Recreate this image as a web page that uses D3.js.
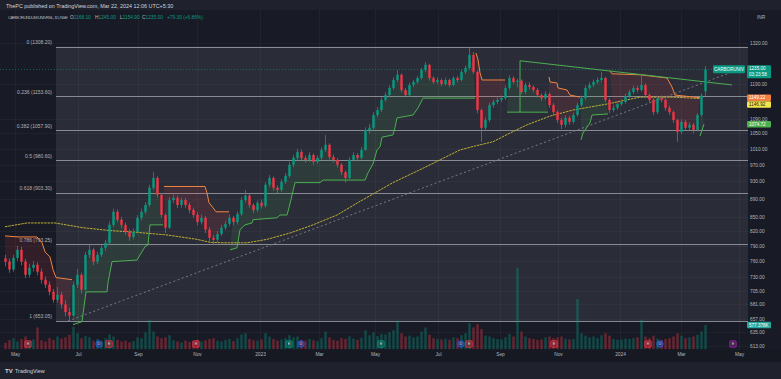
<!DOCTYPE html>
<html>
<head>
<meta charset="utf-8">
<title>CARBORUNIV 1D</title>
<script src="https://cdn.jsdelivr.net/npm/d3@7"></script>
<style>
  html, body { margin: 0; padding: 0; background: #1f222c; }
  svg { display: block; font-family: "Liberation Sans", Arial, sans-serif; }
</style>
</head>
<body>
<svg id="chart" width="781" height="379"></svg>
<script>
// ---- values (one bar every ~4 sessions) ----
const closes = [
  759,744,766,782,759,734,747,753,740,725,
  716,703,689,698,681,668,662,716,734,707,
  772,782,759,772,786,796,833,861,844,833,
  818,808,818,848,861,876,915,938,899,854,
  827,887,892,876,887,876,865,854,839,848,
  823,806,802,814,827,835,848,839,856,887,
  897,876,865,881,874,922,938,915,910,929,
  943,970,987,1002,987,982,994,977,987,1007,
  1020,989,982,970,952,938,982,994,987,1007,
  1059,1065,1100,1114,1143,1157,1178,1202,1218,1172,
  1157,1187,1196,1208,1233,1249,1208,1196,1202,1190,
  1202,1187,1208,1202,1227,1239,1281,1227,1114,1065,
  1086,1128,1137,1143,1148,1178,1208,1196,1200,1166,
  1187,1181,1172,1157,1148,1160,1128,1108,1086,1073,
  1092,1081,1100,1128,1148,1178,1187,1196,1202,1208,
  1143,1114,1120,1131,1137,1154,1166,1178,1172,1187,
  1157,1143,1108,1148,1143,1120,1108,1086,1054,1081,
  1065,1073,1059,1100,1155.7,1235
];
const highs = [
  772,765,772,790,788,764,755,760,758,746,
  731,722,708,712,703,688,676,722,745,738,
  778,792,786,778,792,802,840,868,866,850,
  838,824,825,854,868,882,922,952,942,903,
  858,894,900,897,893,892,881,870,860,855,
  852,828,812,820,833,842,855,852,862,894,
  910,902,880,886,888,928,945,942,921,935,
  950,977,994,1010,1008,993,1001,998,993,1014,
  1046,1024,995,986,974,956,988,1001,999,1014,
  1066,1075,1108,1122,1150,1165,1186,1210,1233,1222,
  1178,1194,1203,1215,1240,1258,1252,1214,1210,1207,
  1209,1206,1214,1215,1234,1247,1305,1290,1230,1118,
  1093,1135,1144,1150,1156,1186,1216,1214,1206,1204,
  1194,1195,1186,1178,1162,1168,1165,1133,1113,1092,
  1099,1097,1107,1135,1155,1186,1195,1203,1210,1227,
  1212,1148,1128,1138,1144,1161,1173,1185,1184,1218,
  1192,1162,1148,1155,1156,1148,1126,1112,1090,1088,
  1087,1080,1078,1106,1162,1245
];
const lows = [
  750,738,740,760,752,728,729,740,733,718,
  710,697,684,684,674,661,653,660,710,700,
  705,766,752,754,768,780,792,828,838,826,
  812,800,803,815,842,856,872,910,893,848,
  816,824,880,869,870,870,858,848,832,834,
  816,799,792,797,810,822,830,832,834,852,
  882,870,858,860,868,870,916,908,902,905,
  924,939,964,982,980,975,977,970,972,982,
  1002,983,975,963,945,927,935,978,980,983,
  1004,1050,1060,1094,1108,1137,1150,1172,1196,1165,
  1150,1152,1180,1190,1203,1226,1200,1190,1190,1183,
  1185,1180,1183,1195,1198,1220,1234,1220,1105,1028,
  1058,1080,1120,1130,1136,1142,1172,1190,1180,1160,
  1160,1174,1165,1150,1140,1142,1120,1100,1078,1062,
  1066,1074,1076,1095,1122,1142,1172,1180,1190,1195,
  1136,1106,1108,1114,1126,1132,1148,1160,1165,1167,
  1150,1136,1100,1103,1136,1112,1100,1078,1028,1048,
  1056,1058,1050,1055,1096,1154.9
];
const volumesK = [
  150,210,260,180,240,300,190,230,520,210,
  180,260,220,300,250,280,340,530,380,260,
  310,280,200,240,190,260,350,300,220,180,
  200,160,190,280,260,400,700,420,300,260,
  280,330,210,180,160,200,170,190,220,180,
  210,240,260,200,180,220,240,190,260,350,
  380,240,210,200,230,380,300,240,200,230,
  260,330,280,300,220,200,240,210,190,260,
  420,280,220,200,260,240,300,250,220,270,
  450,330,400,310,360,350,400,450,680,380,
  300,320,280,300,420,520,340,260,240,230,
  250,220,280,260,330,380,620,520,600,480,
  320,300,260,240,230,280,360,300,1950,420,
  300,260,240,220,230,280,300,260,280,300,
  250,230,240,1200,380,320,280,300,260,330,
  380,320,240,220,230,250,240,260,280,700,
  300,260,320,250,220,240,260,300,380,320,
  260,280,300,340,420,577.378
];
const firstOpen = 765;
const lastOpen = 1168.10;

// time axis (bar index positions of month labels)
const timeTickIdx = [2.5, 18.25, 33.25, 48, 63.75, 78.5, 92.5, 108.25, 123.75, 138.25, 153.75, 169, 183.5];
const timeTickLabels = ['May', 'Jul', 'Sep', 'Nov', '2023', 'Mar', 'May', 'Jul', 'Sep', 'Nov', '2024', 'Mar', 'May'];
const priceTicks = [1320, 1190, 1090, 1050, 1010, 970, 930, 890, 850, 820, 790, 760, 730, 705, 681, 657, 635, 613];

// fib retracement
const fibLevels = [0, 0.236, 0.382, 0.5, 0.618, 0.786, 1];
const fibPrices = [1308.20, 1153.60, 1057.90, 980.60, 903.30, 793.25, 653.05];
const fibStartIdx = 12.75;

// 200 day moving average, [bar index, price]
const ma200 = [
  [0, 829], [5.5, 837], [12.5, 837], [19.5, 827], [26.25, 821], [32, 818], [40.5, 812],
  [48, 803], [51.25, 797], [54.5, 796], [60.5, 796], [65.5, 803], [71.25, 816], [77, 833],
  [83, 854], [88.75, 884], [97, 927], [105.5, 966], [113.75, 1007], [117.5, 1017], [122, 1028],
  [126.25, 1051], [130.5, 1073], [136.25, 1097], [142, 1114], [150.5, 1131], [158.75, 1151],
  [167, 1151], [173.75, 1147]
];

// supertrend, [bar index, price]
const superUp = [
  [[17, 647], [19.25, 652], [20.25, 703], [25.5, 703], [25.75, 720], [26.75, 759], [33, 762],
   [33.75, 772], [35, 788], [35.75, 792], [36.25, 833], [39.5, 833]],
  [[56.25, 782], [58, 786], [58.75, 823], [60, 833], [61.75, 837], [62, 844], [68, 848],
   [68.75, 854], [70.5, 854], [71, 870], [72.5, 927], [78.75, 927], [79.5, 933], [90, 933],
   [90.75, 950], [92, 972], [93, 1007], [93.75, 1015], [94.25, 1040], [97, 1046], [97.5, 1066],
   [98, 1092], [102, 1100], [103.25, 1120], [104.5, 1148], [117.5, 1148]],
  [[125.5, 1108], [135.75, 1108]],
  [[144, 1033], [144.5, 1051], [146.25, 1078], [146.75, 1100], [150.75, 1103]],
  [[173.75, 1043], [174.75, 1074.72]]
];
const superDown = [
  [[0, 810], [3.25, 808], [8, 808], [9.25, 796], [10, 778], [11.25, 768], [12, 744],
   [12.75, 729], [16.75, 725]],
  [[39.75, 918], [50, 918], [50.5, 903], [51, 881], [52, 870], [52.75, 861], [56, 861]],
  [[117.75, 1287], [118.25, 1265], [118.75, 1224], [119.25, 1202], [125, 1202]],
  [[136, 1211], [136.25, 1196], [138, 1193], [138.25, 1178], [140.5, 1172], [141.25, 1157],
   [143.75, 1151]],
  [[151.25, 1230], [151.75, 1221], [158.75, 1218], [165.5, 1208], [166.75, 1181],
   [167.5, 1157], [173.75, 1149.22]]
];

// drawn trend lines
const trendDashed = [[15.75, 653], [182.5, 1230]];
const trendGreen = [[128.75, 1108], [128.75, 1262], [181.75, 1187]];

// earnings / dividends markers: [bar index, letter, kind]
const events = [
  [5.75, 'E', 'red'], [23.5, 'D', 'blue'], [26, 'E', 'red'], [47.75, 'E', 'red'],
  [71, 'E', 'green'], [74, 'D', 'blue'], [94, 'E', 'green'], [114, 'D', 'blue'],
  [116, 'E', 'red'], [137.25, 'E', 'red'], [160.75, 'E', 'red'], [163.75, 'D', 'blue'],
  [182, 'E', 'purple']
];

// ---- layout ----
const paneR = 748, paneT = 10, paneB = 350;
const upColor = '#089981', downColor = '#f23645';
const textGrey = '#b2b5be';

const svg = d3.select('#chart');

const x = d3.scaleLinear().domain([0, closes.length - 1]).range([5, 705]);
const y = d3.scaleLog().domain([613, 1320]).range([346, 43]);
const yVol = d3.scaleLinear().domain([0, 577378]).range([349, 325]);

const bars = closes.map((c, i) => ({
  i: i,
  c: c,
  o: i === closes.length - 1 ? lastOpen : (i === 0 ? firstOpen : closes[i - 1]),
  h: highs[i],
  l: lows[i],
  v: volumesK[i] * 1000
}));

const line = d3.line().x(p => x(p[0])).y(p => y(p[1]));

// backgrounds
svg.append('rect').attr('width', 781).attr('height', 379).attr('fill', '#1f222c');
svg.append('rect').attr('x', 0).attr('y', paneT).attr('width', 781).attr('height', paneB - paneT)
  .attr('fill', '#181b25');

svg.append('clipPath').attr('id', 'pane')
  .append('rect').attr('x', 0).attr('y', paneT).attr('width', paneR).attr('height', paneB - paneT);

const g = svg.append('g').attr('clip-path', 'url(#pane)');

// fib background
const fibX0 = x(fibStartIdx);
g.append('rect')
  .attr('x', fibX0).attr('width', paneR - fibX0)
  .attr('y', y(fibPrices[0])).attr('height', y(fibPrices[fibPrices.length - 1]) - y(fibPrices[0]))
  .attr('fill', '#2a2d38');

// grid
g.selectAll('line.vgrid').data(timeTickIdx).join('line')
  .attr('class', 'vgrid')
  .attr('x1', d => Math.round(x(d)) + 0.5).attr('x2', d => Math.round(x(d)) + 0.5)
  .attr('y1', paneT).attr('y2', paneB)
  .attr('stroke', '#ffffff').attr('stroke-opacity', 0.035);
g.selectAll('line.hgrid').data(priceTicks).join('line')
  .attr('class', 'hgrid')
  .attr('x1', 0).attr('x2', paneR)
  .attr('y1', d => Math.round(y(d)) + 0.5).attr('y2', d => Math.round(y(d)) + 0.5)
  .attr('stroke', '#ffffff').attr('stroke-opacity', 0.03);

// last price line
const lastY = Math.round(y(closes[closes.length - 1])) + 0.5;
g.append('line')
  .attr('x1', 0).attr('x2', paneR).attr('y1', lastY).attr('y2', lastY)
  .attr('stroke', upColor).attr('stroke-opacity', 0.55).attr('stroke-dasharray', '1,2');

// fib levels
g.selectAll('line.fib').data(fibPrices).join('line')
  .attr('class', 'fib')
  .attr('x1', fibX0).attr('x2', paneR)
  .attr('y1', d => Math.round(y(d)) + 0.5).attr('y2', d => Math.round(y(d)) + 0.5)
  .attr('stroke', '#a0a3ab').attr('stroke-opacity', 0.8);
g.selectAll('text.fib').data(fibPrices).join('text')
  .attr('class', 'fib')
  .attr('x', fibX0 - 4).attr('y', d => y(d) - 2.5)
  .attr('text-anchor', 'end')
  .attr('font-size', 5).attr('fill', textGrey)
  .text((d, i) => `${fibLevels[i]} (${d.toFixed(2)})`);

// volume
const bw = 2.4;
g.selectAll('rect.vol').data(bars).join('rect')
  .attr('class', 'vol')
  .attr('x', d => x(d.i) - bw / 2 + 0.5).attr('width', bw)
  .attr('y', d => yVol(d.v)).attr('height', d => yVol(0) - yVol(d.v))
  .attr('fill', d => d.c >= d.o ? upColor : downColor)
  .attr('fill-opacity', 0.38);

// supertrend fills between the line and the body middle
function bandPoints(seg) {
  const a = seg[0][0], b = seg[seg.length - 1][0];
  const mids = bars
    .filter(d => d.i >= Math.ceil(a) && d.i <= Math.floor(b))
    .map(d => [d.i, (d.o + d.c) / 2])
    .reverse();
  return seg.concat(mids);
}
g.selectAll('path.upfill').data(superUp).join('path')
  .attr('d', s => line(bandPoints(s)) + 'Z')
  .attr('fill', 'rgba(76,175,80,0.12)');
g.selectAll('path.downfill').data(superDown).join('path')
  .attr('d', s => line(bandPoints(s)) + 'Z')
  .attr('fill', 'rgba(242,54,69,0.12)');

// moving average
g.append('path').attr('d', line(ma200))
  .attr('fill', 'none').attr('stroke', '#bcae34').attr('stroke-width', 1)
  .attr('stroke-dasharray', '2.5,0.8');

// supertrend lines
g.selectAll('path.up').data(superUp).join('path')
  .attr('d', line).attr('fill', 'none').attr('stroke', '#4caf50').attr('stroke-width', 1);
g.selectAll('path.down').data(superDown).join('path')
  .attr('d', line).attr('fill', 'none').attr('stroke', '#f2843f').attr('stroke-width', 1);

// trend lines
g.append('path').attr('d', line(trendDashed))
  .attr('fill', 'none').attr('stroke', '#787b86').attr('stroke-dasharray', '2,2.5');
g.append('path').attr('d', line(trendGreen))
  .attr('fill', 'none').attr('stroke', '#4caf50').attr('stroke-width', 1);

// candles
g.selectAll('line.wick').data(bars).join('line')
  .attr('class', 'wick')
  .attr('x1', d => Math.round(x(d.i)) + 0.5).attr('x2', d => Math.round(x(d.i)) + 0.5)
  .attr('y1', d => y(d.h)).attr('y2', d => y(d.l))
  .attr('stroke', d => d.c >= d.o ? upColor : downColor).attr('stroke-width', 0.8);
g.selectAll('rect.body').data(bars).join('rect')
  .attr('class', 'body')
  .attr('x', d => x(d.i) - bw / 2 + 0.5).attr('width', bw)
  .attr('y', d => y(Math.max(d.o, d.c)))
  .attr('height', d => Math.max(0.8, y(Math.min(d.o, d.c)) - y(Math.max(d.o, d.c))))
  .attr('fill', d => d.c >= d.o ? upColor : downColor);

// event markers
const evColor = { red: '#f23645', blue: '#2962ff', green: '#089981', purple: '#9c27b0' };
const ev = g.selectAll('g.ev').data(events).join('g')
  .attr('transform', d => `translate(${x(d[0])},344)`);
ev.filter(d => d[1] === 'D').append('circle')
  .attr('r', 3.2).attr('fill', d => evColor[d[2]]).attr('fill-opacity', 0.3)
  .attr('stroke', d => evColor[d[2]]).attr('stroke-width', 0.8);
ev.filter(d => d[1] === 'E').append('rect')
  .attr('x', -3.2).attr('y', -3.2).attr('width', 6.4).attr('height', 6.4).attr('rx', 0.8)
  .attr('fill', d => evColor[d[2]]).attr('fill-opacity', 0.35)
  .attr('stroke', d => evColor[d[2]]).attr('stroke-width', 0.8);
ev.append('text')
  .attr('text-anchor', 'middle').attr('dy', '0.35em')
  .attr('font-size', 4).attr('fill', '#d1d4dc')
  .text(d => d[1]);

// symbol tag near last bar
const tagY = y(closes[closes.length - 1]);
svg.append('rect').attr('x', 713).attr('y', tagY - 4).attr('width', 32).attr('height', 8)
  .attr('rx', 1).attr('fill', upColor);
svg.append('text').attr('x', 729).attr('y', tagY).attr('dy', '0.35em')
  .attr('text-anchor', 'middle').attr('font-size', 4.5).attr('fill', '#ffffff')
  .text('CARBORUNIV');

// price axis
const axisG = svg.append('g').attr('transform', `translate(${paneR},0)`)
  .call(d3.axisRight(y).tickValues(priceTicks).tickFormat(d3.format('.2f')).tickSize(0).tickPadding(2));
axisG.select('.domain').remove();
axisG.selectAll('text').attr('fill', textGrey).attr('font-size', 4.8)
  .attr('font-family', '"Liberation Sans", Arial, sans-serif');

svg.append('text').attr('x', 757).attr('y', 18.5).attr('font-size', 4.8).attr('fill', textGrey).text('INR');

// price tags on the axis
function priceTag(yc, h, fill, color, lines) {
  svg.append('rect').attr('x', 747).attr('y', yc - h / 2).attr('width', 24).attr('height', h)
    .attr('rx', 1).attr('fill', fill);
  lines.forEach((t, k) => {
    svg.append('text').attr('x', 749).attr('y', yc - h / 2 + 3.4 + k * 5.6).attr('dy', '0.35em')
      .attr('font-size', 4.6).attr('fill', color).text(t);
  });
}
priceTag(tagY + 2.5, 13, upColor, '#ffffff', ['1235.00', '03:23:58']);
priceTag(y(1149.22), 6.6, '#f57f3f', '#ffffff', ['1149.22']);
priceTag(y(1149.22) + 6.8, 6.6, '#f2e54b', '#131722', ['1146.92']);
priceTag(y(1074.72), 6.6, '#4caf50', '#ffffff', ['1074.72']);
priceTag(yVol(577378), 6.6, '#26a69a', '#ffffff', ['577.378K']);

// time axis
svg.append('rect').attr('x', 0).attr('y', paneB).attr('width', 781).attr('height', 12).attr('fill', '#161922');
const timeG = svg.append('g').attr('transform', `translate(0,${paneB})`)
  .call(d3.axisBottom(x).tickValues(timeTickIdx).tickFormat((d, i) => timeTickLabels[i]).tickSize(0).tickPadding(3));
timeG.select('.domain').remove();
timeG.selectAll('text').attr('fill', textGrey).attr('font-size', 4.8)
  .attr('font-family', '"Liberation Sans", Arial, sans-serif');

// header
svg.append('text').attr('x', 6).attr('y', 8).attr('font-size', 5.4).attr('fill', '#d1d4dc')
  .text('ThePC published on TradingView.com, Mar 22, 2024 12:06 UTC+5:30');

// legend row
svg.append('text').attr('x', 8).attr('y', 18.5)
  .attr('font-size', 4.4).attr('letter-spacing', -0.55).attr('fill', textGrey)
  .text('CARBORUNDUM UNIVRSL, 1D, NSE');
const ohlc = [['O', '1168.10', 70], ['H', '1245.00', 95], ['L', '1154.90', 120], ['C', '1235.00', 142]];
ohlc.forEach(o => {
  const t = svg.append('text').attr('x', o[2]).attr('y', 18.5).attr('font-size', 4.8).attr('fill', textGrey);
  t.append('tspan').text(o[0]);
  t.append('tspan').attr('fill', upColor).text(o[1]);
});
svg.append('text').attr('x', 167).attr('y', 18.5).attr('font-size', 4.8).attr('fill', upColor)
  .text('+79.30 (+6.86%)');

// footer logo
svg.append('text').attr('x', 5).attr('y', 372.5).attr('font-size', 6).attr('font-weight', 'bold')
  .attr('fill', '#d1d4dc').text('TV');
svg.append('text').attr('x', 15).attr('y', 372.5).attr('font-size', 5.4)
  .attr('fill', '#d1d4dc').text('TradingView');
</script>
</body>
</html>
